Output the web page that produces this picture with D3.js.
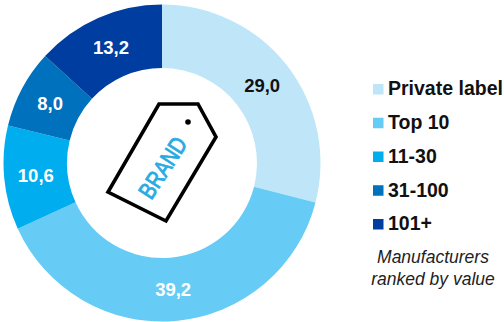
<!DOCTYPE html>
<html>
<head>
<meta charset="utf-8">
<style>
html,body{margin:0;padding:0;background:#fff;overflow:hidden}
svg{display:block}
text{font-family:"Liberation Sans",Arial,sans-serif}
</style>
<script src="https://cdn.jsdelivr.net/npm/d3@7"></script>
</head>
<body>
<svg id="chart" width="504" height="322"></svg>
<script>
const categories = ["Private label", "Top 10", "11-30", "31-100", "101+"];
const shares = [29.0, 39.2, 10.6, 8.0, 13.2];
const colors = ["#BEE6F8", "#66CCF5", "#00AEEF", "#0071BC", "#003DA0"];
const labelColors = ["#111111", "#ffffff", "#ffffff", "#ffffff", "#ffffff"];
const note = ["Manufacturers", "ranked by value"];

const svg = d3.select("#chart");
const fmt = v => v.toFixed(1).replace(".", ",");

// Donut
const cx = 162, cy = 163, outer = 158.5, inner = 95;
const ring = svg.append("g").attr("transform", `translate(${cx},${cy})`);
const pie = d3.pie().sort(null).value(d => d)(shares);
const arc = d3.arc().innerRadius(inner).outerRadius(outer);

ring.selectAll("path").data(pie).join("path")
  .attr("d", arc)
  .attr("fill", (d, i) => colors[i]);

ring.selectAll("text").data(pie).join("text")
  .attr("transform", d => `translate(${arc.centroid(d)})`)
  .attr("text-anchor", "middle")
  .attr("dy", "0.38em")
  .attr("font-size", 18.5)
  .attr("font-weight", 700)
  .attr("fill", (d, i) => labelColors[i])
  .text(d => fmt(d.value));

// Price tag in the hole of the ring
const tagOutline = [[159, 104], [198, 104], [216, 137], [166, 221], [108, 192]];
svg.append("path")
  .attr("d", d3.line()(tagOutline) + "Z")
  .attr("fill", "#fff")
  .attr("stroke", "#000")
  .attr("stroke-width", 3.6)
  .attr("stroke-linejoin", "miter");
svg.append("circle").attr("cx", 188).attr("cy", 122).attr("r", 2.8).attr("fill", "#000");
svg.append("text")
  .attr("transform", "translate(162.5,167.5) rotate(-57)")
  .attr("text-anchor", "middle")
  .attr("dy", "0.36em")
  .attr("font-size", 24)
  .attr("fill", "#29ABE2")
  .attr("stroke", "#29ABE2")
  .attr("stroke-width", 0.9)
  .attr("textLength", 68)
  .attr("lengthAdjust", "spacingAndGlyphs")
  .text("BRAND");

// Legend
const legendY = d3.scalePoint().domain(categories).range([89, 224]);
const legend = svg.append("g");
legend.selectAll("rect").data(categories).join("rect")
  .attr("x", 373)
  .attr("y", d => legendY(d) - 5)
  .attr("width", 10.5)
  .attr("height", 10.5)
  .attr("fill", (d, i) => colors[i]);
legend.selectAll("text").data(categories).join("text")
  .attr("x", 388)
  .attr("y", d => legendY(d))
  .attr("dy", "0.33em")
  .attr("font-size", 19.5)
  .attr("font-weight", 700)
  .attr("fill", "#111")
  .text(d => d);

svg.append("g").selectAll("text").data(note).join("text")
  .attr("x", 433)
  .attr("y", (d, i) => 263 + i * 22)
  .attr("text-anchor", "middle")
  .attr("font-size", 17.5)
  .attr("font-style", "italic")
  .attr("fill", "#222")
  .text(d => d);
</script>
</body>
</html>
